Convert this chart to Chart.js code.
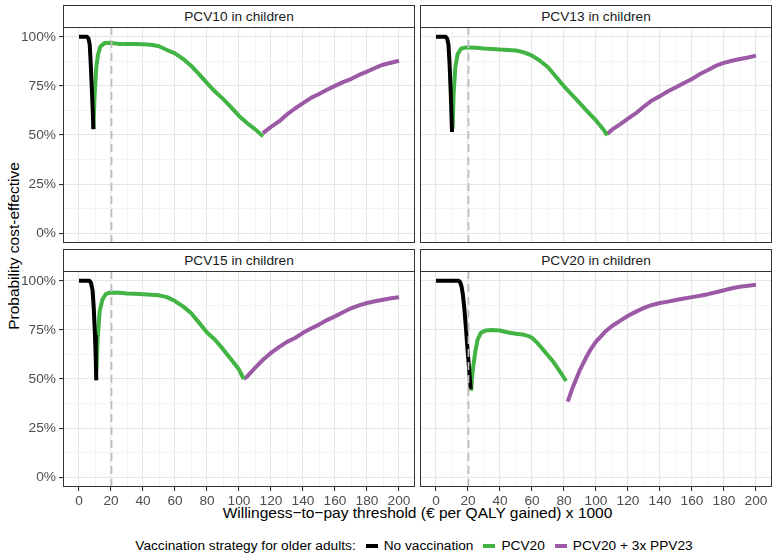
<!DOCTYPE html>
<html>
<head>
<meta charset="utf-8">
<script src="https://cdn.jsdelivr.net/npm/chart.js@4.4.1/dist/chart.umd.min.js"></script>
<style>
  body { margin: 0; background: #fff; font-family: "Liberation Sans", Arial, sans-serif; }
  #fig { position: relative; width: 778px; height: 558px; overflow: hidden; }
  canvas { position: absolute; }
  .strip { position: absolute; box-sizing: border-box; height: 23px; border: 1px solid #333; background: #fff;
           font-size: 13.7px; color: #1a1a1a; text-align: center; line-height: 21px; }
  .frame { position: absolute; box-sizing: border-box; border: 1px solid #333; pointer-events: none; }
  .ytitle { position: absolute; left: 14px; top: 246px; transform: translate(-50%, -50%) rotate(-90deg);
            font-size: 15.5px; white-space: nowrap; }
  .xtitle { position: absolute; left: 63px; width: 709px; top: 504px; text-align: center; font-size: 15.5px; }
  .legend { position: absolute; left: 58px; width: 712px; top: 538px; display: flex; justify-content: center;
            align-items: center; font-size: 13.7px; white-space: nowrap; }
  .key { display: inline-block; width: 12px; height: 4px; margin: 0 6px 0 10px; }
</style>
</head>
<body>
<div id="fig">
  <div class="ytitle">Probability cost-effective</div>
  <div class="xtitle">Willingess−to−pay threshold (€ per QALY gained) x 1000</div>
  <div class="legend" id="legend"></div>
</div>
<script>
// x axis labels and y axis labels
const xMajor = [0, 20, 40, 60, 80, 100, 120, 140, 160, 180, 200];
const yMajor = [0, 0.25, 0.5, 0.75, 1];
const threshold = 20;

const strategies = ['No vaccination', 'PCV20', 'PCV20 + 3x PPV23'];
const colours = ['#000000', '#41b443', '#9b59a6'];
const panelTitles = ['PCV10 in children', 'PCV13 in children', 'PCV15 in children', 'PCV20 in children'];

// PCV10 in children  [wtp, probability]
const pcv10None = [[0,1],[5,1],[6,0.99],[6.7,0.96],[7.3,0.87],[8,0.74],[8.5,0.64],[9,0.53]];
const pcv10Pcv20 = [[9,0.53],[9.8,0.71],[10.8,0.845],[11.9,0.91],[13.3,0.95],[16,0.968],[19,0.97],[25,0.964],
  [30,0.963],[35,0.963],[40,0.962],[45,0.96],[50,0.952],[55,0.933],[60,0.916],[65,0.888],[70,0.853],[75,0.81],
  [80,0.764],[85,0.721],[90,0.684],[95,0.642],[100,0.597],[105,0.561],[110,0.53],[115,0.493]];
const pcv10Ppv23 = [[115,0.51],[120,0.541],[125,0.569],[130,0.605],[135,0.635],[140,0.662],[145,0.689],[150,0.709],
  [155,0.73],[160,0.75],[165,0.769],[170,0.785],[175,0.806],[180,0.823],[185,0.841],[190,0.858],[195,0.868],[200,0.878]];

// PCV13 in children
const pcv13None = [[0,1],[6,1],[7,0.99],[7.8,0.96],[8.5,0.86],[9.2,0.72],[10,0.515]];
const pcv13Pcv20 = [[10.4,0.532],[11,0.71],[12.1,0.845],[13.5,0.912],[15.6,0.939],[18.7,0.946],[20,0.946],[25,0.944],
  [30,0.94],[35,0.938],[40,0.935],[45,0.933],[50,0.93],[55,0.921],[60,0.904],[65,0.878],[70,0.845],[75,0.797],
  [80,0.748],[85,0.704],[90,0.661],[95,0.617],[100,0.574],[105,0.524],[107,0.497]];
const pcv13Ppv23 = [[107,0.505],[110,0.527],[115,0.554],[120,0.583],[125,0.611],[130,0.645],[135,0.676],[140,0.698],
  [145,0.723],[150,0.743],[155,0.765],[160,0.785],[165,0.811],[170,0.831],[175,0.853],[180,0.867],[185,0.878],
  [190,0.887],[195,0.895],[200,0.904]];

// PCV15 in children
const pcv15None = [[0,1],[6.5,1],[7.5,0.99],[8.5,0.95],[9.3,0.85],[10,0.72],[10.5,0.6],[10.8,0.493]];
const pcv15Pcv20 = [[10.9,0.54],[11.7,0.71],[12.9,0.845],[14.6,0.904],[16.7,0.932],[19.6,0.941],[25,0.939],[30,0.936],
  [35,0.934],[40,0.932],[45,0.929],[50,0.926],[55,0.917],[60,0.897],[65,0.87],[70,0.836],[75,0.787],[80,0.737],
  [85,0.7],[90,0.652],[95,0.601],[100,0.548],[103,0.5]];
const pcv15Ppv23 = [[103,0.5],[105,0.512],[110,0.557],[115,0.598],[120,0.633],[125,0.662],[130,0.689],[135,0.709],
  [140,0.735],[145,0.757],[150,0.777],[155,0.8],[160,0.819],[165,0.84],[170,0.86],[175,0.875],[180,0.887],
  [185,0.896],[190,0.904],[195,0.911],[200,0.916]];

// PCV20 in children
const pcv20None = [[0,1],[14,1],[15,0.995],[16,0.97],[16.8,0.93],[17.7,0.86],[18.7,0.76],[19.8,0.64],[20.8,0.54],[21.7,0.448]];
const pcv20Pcv20 = [[21.9,0.44],[22.9,0.54],[24.6,0.642],[26,0.7],[28,0.735],[31,0.747],[35,0.749],[40,0.747],[45,0.737],
  [50,0.73],[55,0.725],[58,0.718],[60,0.71],[62.5,0.69],[65,0.668],[67.7,0.642],[70,0.62],[73,0.591],[77,0.544],[81.3,0.49]];
const pcv20Ppv23 = [[82.3,0.385],[85.4,0.456],[89.6,0.54],[93.7,0.608],[97,0.655],[100,0.69],[106,0.743],[110,0.77],
  [115,0.796],[120,0.822],[125,0.843],[130,0.862],[135,0.877],[140,0.887],[145,0.894],[150,0.902],[155,0.91],
  [160,0.917],[165,0.924],[170,0.932],[175,0.942],[180,0.952],[185,0.962],[190,0.97],[195,0.975],[200,0.98]];

const panelSeries = [
  [pcv10None, pcv10Pcv20, pcv10Ppv23],
  [pcv13None, pcv13Pcv20, pcv13Ppv23],
  [pcv15None, pcv15Pcv20, pcv15Ppv23],
  [pcv20None, pcv20Pcv20, pcv20Ppv23]
];

// panel geometry (plot area in page pixels)
const panelBoxes = [
  { left: 63, top: 27, showY: true, showX: false },
  { left: 420, top: 27, showY: false, showX: false },
  { left: 63, top: 271, showY: true, showX: true },
  { left: 420, top: 271, showY: false, showX: true }
];
const plotW = 352, plotH = 216, yAxisW = 50, xAxisH = 26;

// minor grid lines half way between the labelled ones
const midpoints = arr => arr.slice(1).map((v, i) => (v + arr[i]) / 2);
const xGrid = [...xMajor, ...midpoints(xMajor)].sort((a, b) => a - b);
const yGrid = [...yMajor, ...midpoints(yMajor)].sort((a, b) => a - b);

const tickFont = { family: '"Liberation Sans", Arial, sans-serif', size: 13.7 };

const thresholdLine = {
  id: 'thresholdLine',
  afterDatasetsDraw(chart) {
    const { ctx, chartArea, scales } = chart;
    const px = Math.round(scales.x.getPixelForValue(threshold)) + 0.5;
    ctx.save();
    ctx.strokeStyle = '#bebebe';
    ctx.lineWidth = 1.8;
    ctx.setLineDash([8, 5]);
    ctx.beginPath();
    ctx.moveTo(px, chartArea.top);
    ctx.lineTo(px, chartArea.bottom);
    ctx.stroke();
    ctx.restore();
  }
};

const fig = document.getElementById('fig');

panelBoxes.forEach((box, i) => {
  const strip = document.createElement('div');
  strip.className = 'strip';
  strip.style.left = box.left + 'px';
  strip.style.top = (box.top - 22) + 'px';
  strip.style.width = plotW + 'px';
  strip.textContent = panelTitles[i];
  fig.appendChild(strip);

  const canvas = document.createElement('canvas');
  const cw = plotW + (box.showY ? yAxisW : 0);
  const ch = plotH + (box.showX ? xAxisH : 0);
  canvas.width = cw; canvas.height = ch;
  canvas.style.width = cw + 'px'; canvas.style.height = ch + 'px';
  canvas.style.left = (box.left - (box.showY ? yAxisW : 0)) + 'px';
  canvas.style.top = box.top + 'px';
  fig.appendChild(canvas);

  const frame = document.createElement('div');
  frame.className = 'frame';
  frame.style.left = box.left + 'px';
  frame.style.top = box.top + 'px';
  frame.style.width = plotW + 'px';
  frame.style.height = plotH + 'px';
  fig.appendChild(frame);

  new Chart(canvas.getContext('2d'), {
    type: 'line',
    data: {
      datasets: panelSeries[i].map((pts, k) => ({
        label: strategies[k],
        data: pts.map(([x, y]) => ({ x, y })),
        borderColor: colours[k],
        borderWidth: 4,
        pointRadius: 0,
        tension: 0,
        borderJoinStyle: 'round'
      }))
    },
    options: {
      responsive: false,
      animation: false,
      layout: { padding: 0 },
      plugins: { legend: { display: false }, tooltip: { enabled: false } },
      scales: {
        x: {
          type: 'linear', min: -10, max: 210,
          afterBuildTicks: s => { s.ticks = xGrid.map(v => ({ value: v })); },
          afterFit: s => { s.height = box.showX ? xAxisH : 0; s.paddingLeft = 0; s.paddingRight = 0; },
          ticks: {
            display: box.showX, autoSkip: false, maxRotation: 0, padding: 2,
            color: '#4d4d4d', font: tickFont,
            callback: v => xMajor.includes(v) ? String(v) : ''
          },
          grid: {
            color: c => xMajor.includes(c.tick.value) ? '#e6e6e6' : '#f1f1f1',
            lineWidth: c => xMajor.includes(c.tick.value) ? 1.1 : 0.8,
            drawTicks: box.showX, tickLength: 4,
            tickColor: c => xMajor.includes(c.tick.value) ? '#333' : 'rgba(0,0,0,0)'
          },
          border: { display: false }
        },
        y: {
          type: 'linear', min: -0.05, max: 1.05,
          afterBuildTicks: s => { s.ticks = yGrid.map(v => ({ value: v })); },
          afterFit: s => { s.width = box.showY ? yAxisW : 0; s.paddingTop = 0; s.paddingBottom = 0; },
          ticks: {
            display: box.showY, autoSkip: false, padding: 3,
            color: '#4d4d4d', font: tickFont,
            callback: v => yMajor.includes(v) ? Math.round(v * 100) + '%' : ''
          },
          grid: {
            color: c => yMajor.includes(c.tick.value) ? '#e6e6e6' : '#f1f1f1',
            lineWidth: c => yMajor.includes(c.tick.value) ? 1.1 : 0.8,
            drawTicks: box.showY, tickLength: 4,
            tickColor: c => yMajor.includes(c.tick.value) ? '#333' : 'rgba(0,0,0,0)'
          },
          border: { display: false }
        }
      }
    },
    plugins: [thresholdLine]
  });
});

// legend
const legend = document.getElementById('legend');
legend.innerHTML = '<span>Vaccination strategy for older adults:</span>' +
  strategies.map((s, k) => `<span class="key" style="background:${colours[k]}"></span><span>${s}</span>`).join('');
</script>
</body>
</html>
